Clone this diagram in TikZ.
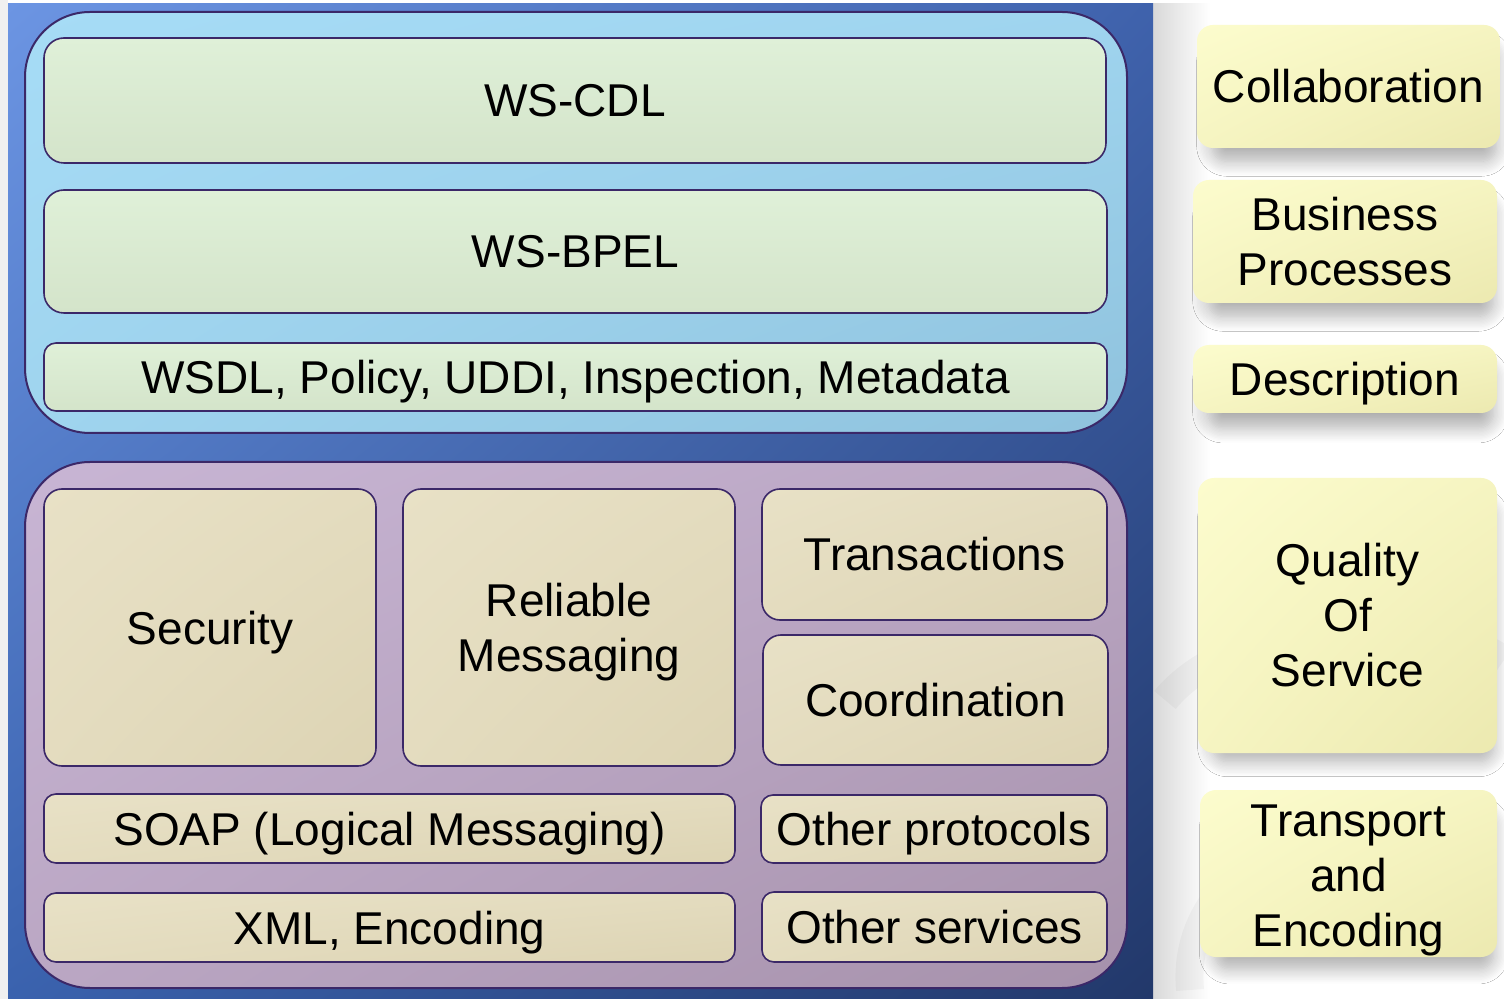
\documentclass[tikz,border=0pt]{standalone}
\usepackage{fontspec}
\setmainfont{Liberation Sans}
\usetikzlibrary{shadings,shadows.blur}
\definecolor{edge}{HTML}{3B2868}
\definecolor{panelUL}{HTML}{6C95E3}
\definecolor{panelUR}{HTML}{3F62AC}
\definecolor{panelLL}{HTML}{3A62AE}
\definecolor{panelLR}{HTML}{22386A}
\definecolor{upUL}{HTML}{A6DCF6}
\definecolor{upLR}{HTML}{8FC2DD}
\definecolor{greenA}{HTML}{DFF0D8}
\definecolor{greenB}{HTML}{D4E4CA}
\definecolor{loUL}{HTML}{C8B5D4}
\definecolor{loLR}{HTML}{A691AB}
\definecolor{beigeA}{HTML}{E8E1C6}
\definecolor{beigeB}{HTML}{DDD4B4}
\definecolor{yelA}{HTML}{FCFCCD}
\definecolor{yelB}{HTML}{ECE9B0}
\begin{document}
\begin{tikzpicture}[x=0.5pt,y=-0.5pt,
  txt/.style={inner sep=0pt, font=\fontsize{23}{27.5}\selectfont, align=center, text=black},
  dn/.style={text depth=0pt},
  region/.style={draw=edge, line width=1pt, rounded corners=32.5pt, inner sep=0pt},
  layer/.style={txt, draw=edge, line width=0.8pt},
  greenbox/.style={layer, upper left=greenA, upper right=greenA, lower left=greenB, lower right=greenB},
  beigebox/.style={layer, upper left=beigeA, upper right=beigeA!60!beigeB, lower left=beigeA!60!beigeB, lower right=beigeB},
  tagbox/.style={txt, rounded corners=8pt, upper left=yelA, upper right=yelA!60!yelB, lower left=yelA!60!yelB, lower right=yelB,
     blur shadow={shadow xshift=3pt, shadow yshift=-9pt, shadow scale=0.94, shadow opacity=32, shadow blur radius=8pt, shadow blur steps=12}}
]
\useasboundingbox (0,0) rectangle (1504,999);
% background
\fill[white] (0,0) rectangle (1504,999);
\fill[black!6] (0,0) rectangle (8,999);
\shade[left color=black!15, right color=white] (1153,0) rectangle (1210,999);
\fill[white] (1153,0) rectangle (1504,3);
\draw[black, opacity=0.03, line width=14pt] (1165,700) .. controls (1230,620) and (1420,600) .. (1504,660);
\draw[black, opacity=0.03, line width=14pt] (1190,990) .. controls (1180,880) and (1300,800) .. (1460,830);
% outer panel
\node[inner sep=0pt, minimum width=572.5pt, minimum height=497.5pt,
      upper left=panelUL, upper right=panelUR, lower left=panelLL, lower right=panelLR] (panel) at (580.5,501.5) {};
% upper region
\node[region, minimum width=551pt, minimum height=210.5pt, upper left=upUL, upper right=upUL!70!upLR, lower left=upUL!70!upLR, lower right=upLR] (upper) at (576,222.5) {};
\node[greenbox, rounded corners=10pt, minimum width=531pt, minimum height=62.5pt] (cdl) at (575,100.5) {WS-CDL};
\node[greenbox, rounded corners=10pt, minimum width=531.5pt, minimum height=61.5pt] (bpel) at (575.5,251.5) {WS-BPEL};
\node[greenbox, dn, rounded corners=6pt, minimum width=531.5pt, minimum height=34pt] (wsdl) at (575.5,377) {WSDL, Policy, UDDI, Inspection, Metadata};
% lower region
\node[region, minimum width=551pt, minimum height=263pt, upper left=loUL, upper right=loUL!60!loLR, lower left=loUL!60!loLR, lower right=loLR] (lower) at (576,725) {};
\node[beigebox, dn, rounded corners=9pt, minimum width=166pt, minimum height=138.5pt] (sec) at (210,627.5) {Security};
\node[beigebox, rounded corners=9pt, minimum width=166pt, minimum height=138.5pt] (rel) at (569,627.5) {};
\node[txt] (reltxt) at (569,632) {Reliable\\Messaging};
\node[beigebox, rounded corners=9pt, minimum width=172.5pt, minimum height=65.5pt] (trans) at (934.5,554.5) {Transactions};
\node[beigebox, rounded corners=9pt, minimum width=172.5pt, minimum height=65pt] (coord) at (935.5,700) {Coordination};
\node[beigebox, dn, rounded corners=6pt, minimum width=345.5pt, minimum height=34.5pt] (soap) at (389.5,828.5) {SOAP (Logical Messaging)};
\node[beigebox, dn, rounded corners=6pt, minimum width=173pt, minimum height=34pt] (proto) at (934,829) {Other protocols};
\node[beigebox, dn, rounded corners=6pt, minimum width=345.5pt, minimum height=34.5pt] (xml) at (389.5,927.5) {XML, Encoding};
\node[beigebox, rounded corners=6pt, minimum width=172.5pt, minimum height=35pt] (serv) at (934.5,927) {Other services};
% right-hand tags
\node[tagbox, minimum width=151.5pt, minimum height=61.5pt] (collab) at (1348.5,86.5) {Collaboration};
\node[tagbox, minimum width=152pt, minimum height=61.5pt] (bp) at (1345,241.5) {Business\\Processes};
\node[tagbox, dn, minimum width=152pt, minimum height=34pt] (desc) at (1345,379) {Description};
\node[tagbox, minimum width=149.5pt, minimum height=137.5pt] (qos) at (1347.5,615.5) {Quality\\Of\\Service};
\node[tagbox, minimum width=148.5pt, minimum height=83.5pt] (te) at (1348.5,873.5) {};
\node[txt] (tetxt) at (1348.5,880.5) {Transport\\and\\Encoding};
\end{tikzpicture}
\end{document}
